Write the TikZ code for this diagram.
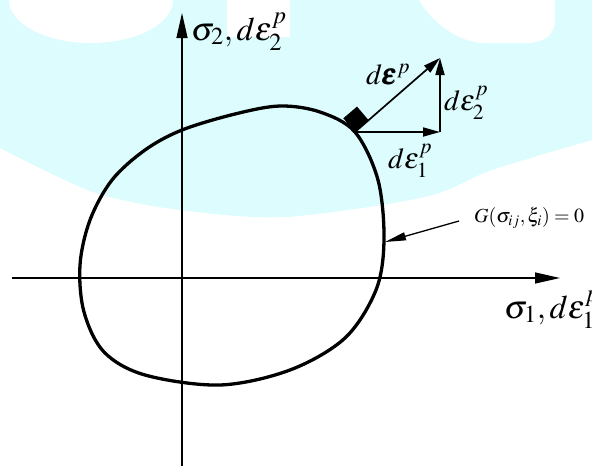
\documentclass[tikz,border=0pt]{standalone}
\usepackage{amsmath}
\usepackage{mathptmx}
\usetikzlibrary{arrows.meta}

\definecolor{wmcyan}{RGB}{221,252,253}

\begin{document}
\begin{tikzpicture}[
        x=1pt,
        y=-1pt,
        axis/.style={
            -{Triangle[length=25pt,width=11pt]},
            line width=1.3pt
        },
        vec/.style={
            -{Triangle[length=17pt,width=9pt]},
            line width=1.7pt
        },
        leader/.style={
            -{Triangle[length=21pt,width=8pt]},
            line width=1.3pt
        },
        surface/.style={
            line width=3.3pt,
            line join=round
        },
        biglabel/.style={
            font=\fontsize{33}{40}\selectfont,
            inner sep=0pt
        },
        veclabel/.style={
            font=\fontsize{29}{35}\selectfont,
            inner sep=0pt
        },
        smalllabel/.style={
            font=\fontsize{20}{24}\selectfont,
            inner sep=0pt
        }
    ]

        \useasboundingbox (0,0) rectangle (592,466);
        \clip (0,0) rectangle (592,466);

        % watermark behind the figure
        \fill[wmcyan] plot[smooth] coordinates {(0,148) (93,192) (180,210) (285,217) (425,197) (492,170) (592,140)}
            -- (592,0) -- (0,0) -- cycle;
        \fill[white] (91,0) ellipse[x radius=82, y radius=43];
        \fill[white] (227,0) rectangle (290,37);
        \fill[white] (419,0) .. controls (432,22) and (458,43) .. (485,43) -- (525,43)
            .. controls (545,43) and (555,35) .. (555,20) -- (555,0) -- cycle;

        \coordinate (xstart) at (12,278);
        \coordinate (xend) at (560,278);
        \coordinate (ystart) at (182,466);
        \coordinate (yend) at (182,13);

        \draw[axis] (xstart) -- (xend);
        \draw[axis] (ystart) -- (yend);

        % yield surface
        \draw[surface] plot[smooth cycle, tension=0.55] coordinates {
            (182,130) (235,114) (280,106) (320,112) (355,132) (378,180)
            (384,240) (376,290) (345,338) (290,370) (220,385) (145,375)
            (104,352) (84,312) (80,265) (90,220) (112,180) (145,150)};

        \coordinate (contact) at (355,132);
        \coordinate (tip) at (440,58);
        \coordinate (corner) at (440,132);

        \fill (contact) -- ++(13.7,-11.7) -- ++(-11.7,-13.7) -- ++(-13.7,11.7) -- cycle;

        \draw[vec] (contact) -- (tip);
        \draw[vec] (contact) -- (corner);
        \draw[vec] (corner) -- (tip);

        \node[biglabel, anchor=base west] (s2lab) at (191,40) {$\sigma_2, d\varepsilon_2^p$};
        \node[biglabel, anchor=base west] (s1lab) at (504,318) {$\sigma_1, d\varepsilon_1^p$};
        \node[veclabel, anchor=base west] (dlab) at (366,84) {$d\pmb{\varepsilon}^p$};
        \node[veclabel, anchor=base west] (d2lab) at (444,110) {$d\varepsilon_2^p$};
        \node[veclabel, anchor=base west] (d1lab) at (388,168) {$d\varepsilon_1^p$};
        \node[smalllabel, anchor=base west] (glab) at (474,222) {$G(\sigma_{ij},\xi_i)=0$};

        \coordinate (gtail) at (459,221);
        \coordinate (gtip) at (385,242);
        \draw[leader] (gtail) -- (gtip);

    \end{tikzpicture}
\end{document}
